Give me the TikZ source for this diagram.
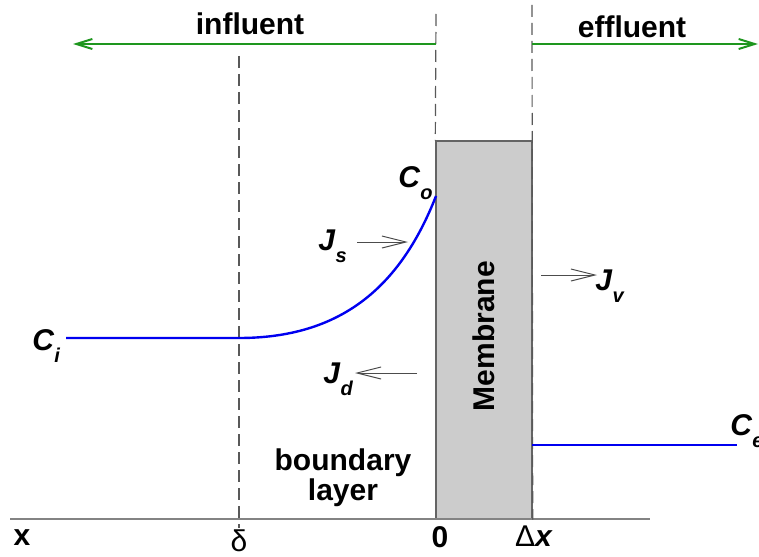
\documentclass[tikz,border=0pt]{standalone}
\usepackage{fontspec}
\setmainfont{Liberation Sans}
\usepackage{xcolor}
\usepackage{tikz}
\usetikzlibrary{arrows.meta}

\definecolor{flowgreen}{RGB}{30,150,30}
\definecolor{profileblue}{RGB}{0,0,240}
\definecolor{membranegray}{RGB}{204,204,204}
\definecolor{edgegray}{RGB}{100,100,100}

% concentration / flux symbol with subscript
\newcommand{\conc}[2]{\textit{#1}\raisebox{-6pt}{\fontsize{10}{10}\selectfont\textit{#2}}}

\begin{document}
\begin{tikzpicture}[x=0.5pt, y=-0.5pt,
        lbl/.style={inner sep=0pt, font=\fontsize{15}{13}\selectfont\bfseries},
        guide/.style={draw=black!65, line width=0.6pt, dash pattern=on 6pt off 3pt},
        flow/.style={flowgreen, line width=1pt, -{Straight Barb[length=8pt, width=5pt]}},
        flux/.style={black!70, line width=0.5pt, -{Straight Barb[length=12pt, width=6pt]}},
        profile/.style={profileblue, line width=1.2pt}]

    \useasboundingbox (0,0) rectangle (759,556);

    % membrane and axis
    \node[draw=edgegray, fill=membranegray, line width=0.7pt, inner sep=0pt,
          minimum width=48pt, minimum height=189pt] (membrane) at (484,330) {};
    \node[lbl, rotate=90] (mlabel) at (484,336) {Membrane};
    \coordinate (axis start) at (10,519);
    \coordinate (axis end)   at (650,519);
    \draw[edgegray!80, line width=1pt] (axis start) -- (axis end);

    % dashed guides
    \coordinate (delta top) at (239,56);
    \coordinate (delta bot) at (239,528);
    \coordinate (zero top)  at (436,14);
    \coordinate (dx top)    at (532,5);
    \draw[guide] (delta top) -- (delta bot);
    \draw[guide] (zero top) -- (membrane.north west);
    \draw[guide] (dx top) -- (membrane.south east);

    % flow directions
    \coordinate (in start)  at (436,44);
    \coordinate (in end)    at (73,44);
    \coordinate (out start) at (532,44);
    \coordinate (out end)   at (758,44);
    \draw[flow] (in start) -- (in end);
    \draw[flow] (out start) -- (out end);
    \node[lbl, anchor=base] (influent) at (250,35) {influent};
    \node[lbl, anchor=base] (effluent) at (632,38) {effluent};

    % concentration profile
    \coordinate (ci start) at (66,338);
    \coordinate (ci end)   at (239,338);
    \coordinate (co)       at (436,196);
    \coordinate (ce start) at (532,445);
    \coordinate (ce end)   at (737,445);
    \draw[profile] (ci start) -- (ci end) .. controls (340,338) and (400,288) .. (co);
    \draw[profile] (ce start) -- (ce end);

    \node[lbl, anchor=base west] (Ci) at (32,350) {\conc{C}{i}};
    \node[lbl, anchor=base west] (Co) at (398,187) {\conc{C}{o}};
    \node[lbl, anchor=base west] (Ce) at (730,435) {\conc{C}{e}};

    % fluxes
    \node[lbl, anchor=base west] (Js) at (318,250) {\conc{J}{s}};
    \node[lbl, anchor=base west] (Jd) at (323,383) {\conc{J}{d}};
    \node[lbl, anchor=base west] (Jv) at (595,290) {\conc{J}{v}};
    \coordinate (js tail) at (357,242);
    \coordinate (js tip)  at (408,242);
    \coordinate (jd tail) at (417,373);
    \coordinate (jd tip)  at (355,373);
    \coordinate (jv tail) at (541,275);
    \coordinate (jv tip)  at (597,275);
    \draw[flux] (js tail) -- (js tip);
    \draw[flux] (jd tail) -- (jd tip);
    \draw[flux] (jv tail) -- (jv tip);

    \node[lbl, align=center] (layer) at (343,478) {boundary\\layer};

    % axis labels
    \node[lbl, anchor=base] (xlabel)  at (22,545)  {x};
    \node[lbl, anchor=base, font=\fontsize{15}{13}\selectfont] (delta) at (239,551) {δ};
    \node[lbl, anchor=base] (zero)    at (440,547) {0};
    \node[lbl, anchor=base] (dx)      at (534,546) {{\mdseries Δ}\textit{x}};
\end{tikzpicture}
\end{document}
